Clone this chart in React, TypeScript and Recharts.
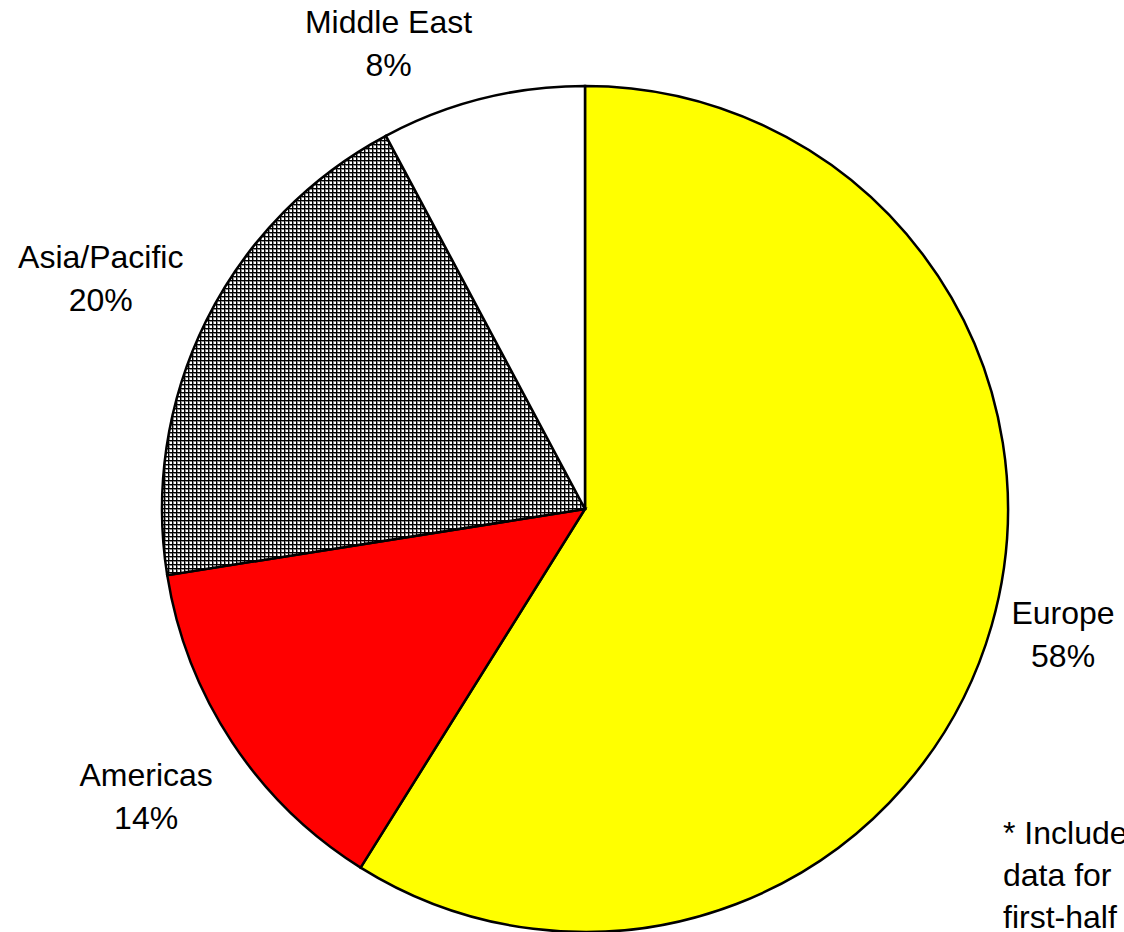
import React from 'react';
import { PieChart, Pie, Cell } from 'recharts';

const regions = ['Europe', 'Americas', 'Asia/Pacific', 'Middle East'];
const shares = [58.9, 13.6, 19.7, 7.8];
const shareLabels = ['58%', '14%', '20%', '8%'];
const fills = ['#FFFF00', '#FF0000', 'url(#grid)', '#FFFFFF'];
const footnoteLines = ['* Includes', 'data for', 'first-half'];
// label nudges (px) relative to the radial anchor, to mimic the original placement
const labelNudges = [
  [-15, -17],
  [-11, 4],
  [-25, -2],
  [-72, 32],
];

const data = regions.map((name, i) => ({ name, value: shares[i], label: shareLabels[i], idx: i }));

const RAD = Math.PI / 180;

const renderLabel = (props: any) => {
  const { cx, cy, midAngle, outerRadius, index } = props;
  const r = outerRadius + 90;
  const [nx, ny] = labelNudges[index];
  const x = cx + r * Math.cos(-midAngle * RAD) + nx;
  const y = cy + r * Math.sin(-midAngle * RAD) + ny;
  return (
    <text
      key={`lbl-${index}`}
      x={x}
      y={y}
      textAnchor="middle"
      fill="#000"
      fontFamily="Liberation Sans, Arial, sans-serif"
      fontSize={32}
    >
      <tspan x={x} dy={-10}>{regions[index]}</tspan>
      <tspan x={x} dy={43}>{shareLabels[index]}</tspan>
    </text>
  );
};

export default function App() {
  return (
    <div
      style={{
        position: 'absolute',
        left: 0,
        top: 0,
        width: 1124,
        height: 932,
        overflow: 'hidden',
        background: '#fff',
      }}
    >
      <PieChart width={1124} height={932} margin={{ top: 0, right: 0, bottom: 0, left: 0 }}>
        <defs>
          <pattern id="grid" width="4" height="4" patternUnits="userSpaceOnUse">
            <rect width="4" height="4" fill="#fff" />
            <rect x="0" y="0" width="4" height="1" fill="#000" />
            <rect x="0" y="0" width="1" height="4" fill="#000" />
            <rect x="1" y="1" width="3" height="1" fill="#8a8a8a" />
            <rect x="1" y="1" width="1" height="3" fill="#8a8a8a" />
          </pattern>
        </defs>
        <Pie
          data={data}
          dataKey="value"
          nameKey="name"
          cx={585}
          cy={509}
          outerRadius={423}
          startAngle={90}
          endAngle={-270}
          stroke="#000"
          strokeWidth={2.5}
          label={renderLabel}
          labelLine={false}
          isAnimationActive={false}
        >
          {data.map((d, i) => (
            <Cell key={d.name} fill={fills[i]} />
          ))}
        </Pie>
      </PieChart>
      <div
        style={{
          position: 'absolute',
          left: 1003,
          top: 812,
          fontFamily: 'Liberation Sans, Arial, sans-serif',
          fontSize: 32,
          lineHeight: '42px',
          whiteSpace: 'nowrap',
          color: '#000',
        }}
      >
        {footnoteLines.map((l) => (
          <div key={l}>{l}</div>
        ))}
      </div>
    </div>
  );
}
